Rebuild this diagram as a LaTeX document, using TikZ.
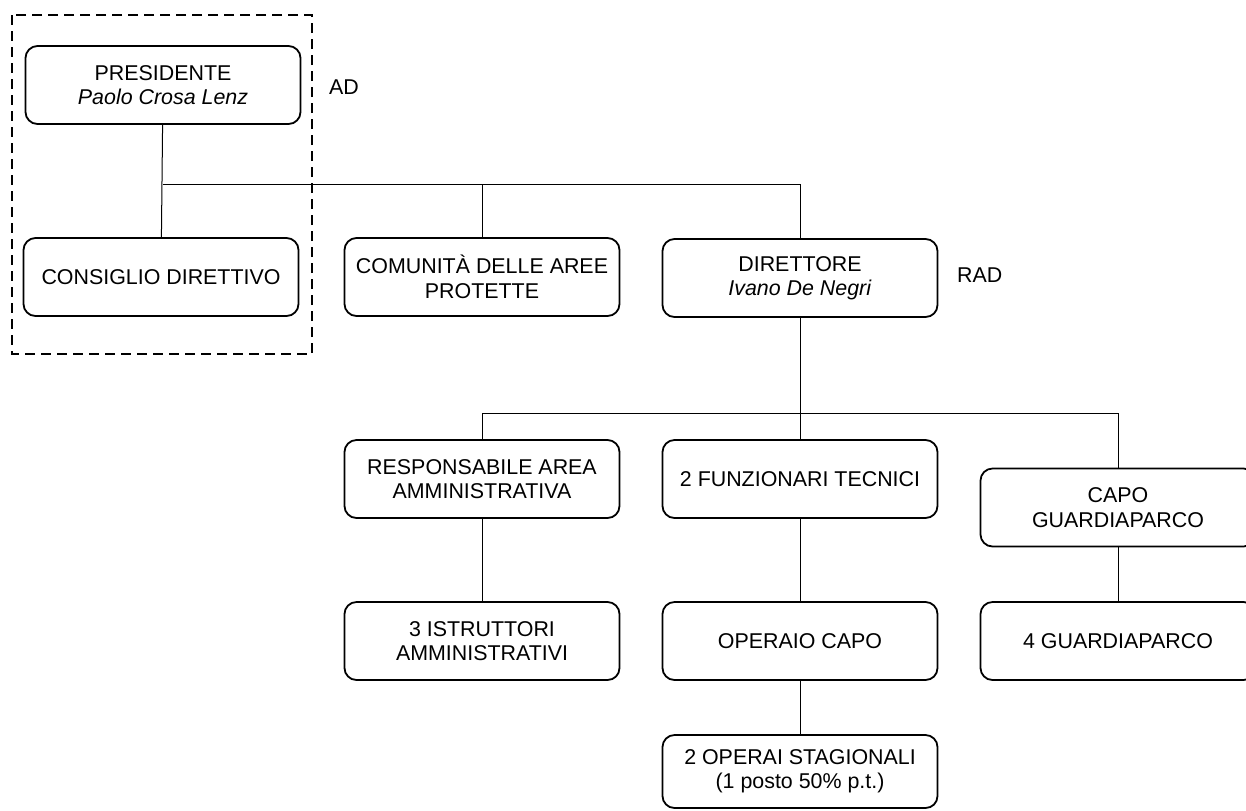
\documentclass[tikz,border=0pt]{standalone}
\usepackage{fontspec}
\setmainfont{Liberation Sans}
\usepackage{tikz}

\tikzset{
  ufficio/.style={draw, line width=0.9pt, rounded corners=6pt, align=center,
    minimum width=137.5pt, minimum height=39pt, inner sep=2pt,
    font=\fontsize{10.7}{12.2}\selectfont},
  linea/.style={line width=0.5pt},
  sigla/.style={anchor=west, font=\fontsize{10.7}{12.2}\selectfont}
}

\begin{document}
\begin{tikzpicture}[x=0.5pt, y=-0.5pt]
    \useasboundingbox (0,0) rectangle (1246,810);
    % Coordinate
    \coordinate (P) at (163,85);
    \coordinate (CD) at (161,277);
    \coordinate (CA) at (482,277);
    \coordinate (D) at (800,278);
    \coordinate (RA) at (482,479);
    \coordinate (FT) at (800,479);
    \coordinate (CG) at (1118,507.5);
    \coordinate (IA) at (482,641);
    \coordinate (OC) at (800,641);
    \coordinate (G) at (1118,641);
    \coordinate (OS) at (800,771.5);
    \coordinate (j1) at (163,184);
    \coordinate (j2) at (800,413);

    % Riquadro tratteggiato
    \draw[dashed, line width=1pt, dash pattern=on 5pt off 3pt] (12,15) rectangle (312,354);

    % Uffici
    \node[ufficio] (pres) at (P) {PRESIDENTE\\\textit{Paolo Crosa Lenz}};
    \node[ufficio] (cons) at (CD) {CONSIGLIO DIRETTIVO};
    \node[ufficio] (comu) at (CA) {COMUNITÀ DELLE AREE\\PROTETTE};
    \node[ufficio] (dir) at (D) {DIRETTORE\\\textit{Ivano De Negri}};
    \node[ufficio] (resp) at (RA) {RESPONSABILE AREA\\AMMINISTRATIVA};
    \node[ufficio] (funz) at (FT) {2 FUNZIONARI TECNICI};
    \node[ufficio] (capo) at (CG) {CAPO\\GUARDIAPARCO};
    \node[ufficio] (istr) at (IA) {3 ISTRUTTORI\\AMMINISTRATIVI};
    \node[ufficio] (opc) at (OC) {OPERAIO CAPO};
    \node[ufficio] (guard) at (G) {4 GUARDIAPARCO};
    \node[ufficio, minimum height=36.5pt] (oper) at (OS) {2 OPERAI STAGIONALI\\(1 posto 50\% p.t.)};

    % Sigle
    \node[sigla] (ad) at (322,87) {AD};
    \node[sigla] (rad) at (950,275) {RAD};

    % Collegamenti
    \draw[linea] (pres) -- (cons);
    \draw[linea] (j1) -| (comu.north);
    \draw[linea] (j1) -| (dir.north);
    \draw[linea] (dir) -- (funz);
    \draw[linea] (j2) -| (resp.north);
    \draw[linea] (j2) -| (capo.north);
    \draw[linea] (resp) -- (istr);
    \draw[linea] (funz) -- (opc);
    \draw[linea] (opc) -- (oper);
    \draw[linea] (capo) -- (guard);
\end{tikzpicture}
\end{document}
